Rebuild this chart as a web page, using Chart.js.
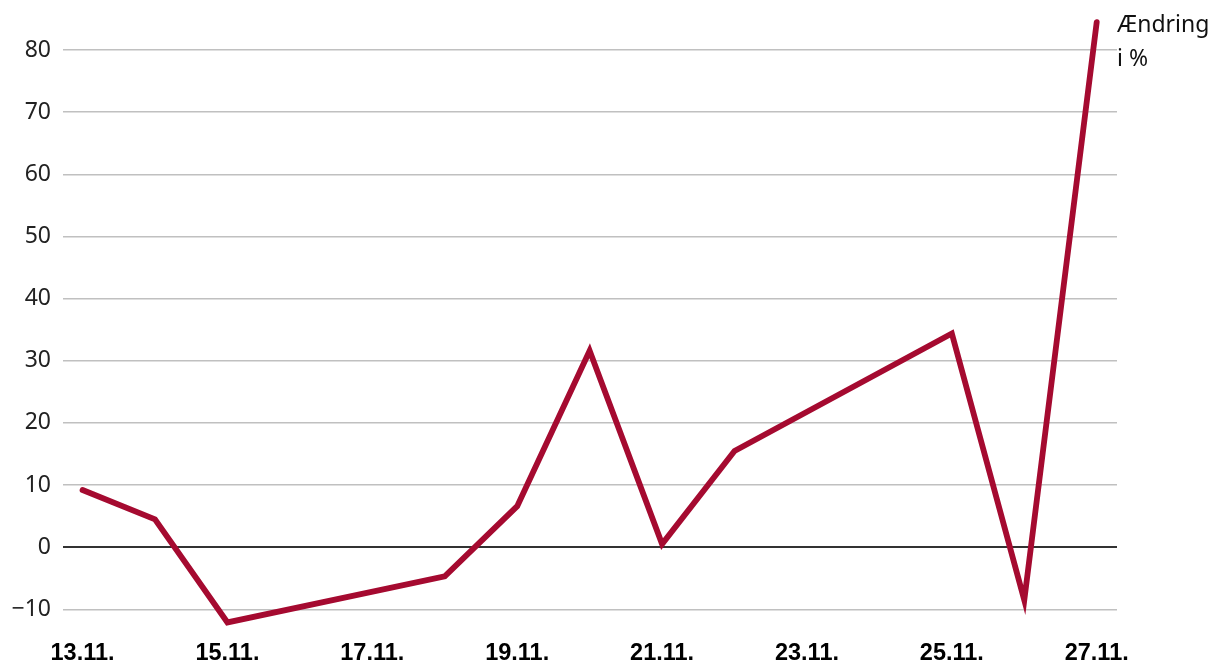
<!DOCTYPE html>
<html><head><meta charset="utf-8">
<script src="https://cdn.jsdelivr.net/npm/chart.js@4/dist/chart.umd.min.js"></script>
<style>html,body{margin:0;padding:0;background:#fff}#wrap{width:1220px;height:672px}</style>
</head><body><div id="wrap"><canvas id="c" width="1220" height="672"></canvas></div>
<script>
const days = [13, 14, 15, 18, 19, 20, 21, 22, 25, 26, 27];
const changePct = [9.2, 4.5, -12.1, -4.7, 6.6, 31.6, 0.5, 15.5, 34.4, -8.5, 84.5];
const xTickDays = [13, 15, 17, 19, 21, 23, 25, 27];
const xTickLabels = ['13.11.', '15.11.', '17.11.', '19.11.', '21.11.', '23.11.', '25.11.', '27.11.'];
const yTicks = [-10, 0, 10, 20, 30, 40, 50, 60, 70, 80];
const unitLabel = ['Ændring', 'i %'];

const labelPlugin = {
  id: 'unitLabel',
  afterDraw(chart) {
    const ctx = chart.ctx;
    ctx.save();
    ctx.font = '23px "Noto Sans"';
    ctx.fillStyle = '#111';
    ctx.textAlign = 'left';
    ctx.textBaseline = 'middle';
    const x = chart.chartArea.right + 0;
    unitLabel.forEach((t, i) => ctx.fillText(t, x, 25 + i * 34));
    ctx.restore();
  }
};

new Chart(document.getElementById('c'), {
  type: 'line',
  data: {
    datasets: [{
      data: days.map((d, i) => ({x: d, y: changePct[i]})),
      borderColor: '#a50a30',
      borderWidth: 5.8,
      borderCapStyle: 'round',
      borderJoinStyle: 'miter',
      pointRadius: 0,
      tension: 0,
      clip: false
    }]
  },
  options: {
    responsive: false,
    animation: false,
    layout: {padding: {top: 19, right: 103, bottom: 0, left: 0}},
    plugins: {legend: {display: false}, tooltip: {enabled: false}},
    scales: {
      x: {
        type: 'linear',
        min: 12.73,
        max: 27.28,
        afterBuildTicks(s) { s.ticks = xTickDays.map(v => ({value: v})); },
        afterFit(s) { s.height = 44; s.paddingLeft = 0; s.paddingRight = 0; },
        grid: {display: false, drawTicks: false},
        border: {display: false},
        ticks: {
          autoSkip: false,
          maxRotation: 0,
          padding: 11,
          color: '#000',
          font: {family: '"Liberation Sans", Arial, sans-serif', size: 23.5, weight: 'bold'},
          callback(v) { const i = xTickDays.indexOf(v); return i >= 0 ? xTickLabels[i] : ''; }
        }
      },
      y: {
        min: -13,
        max: 85,
        afterBuildTicks(s) { s.ticks = yTicks.map(v => ({value: v})); },
        afterFit(s) { s.width = 63; s.paddingTop = 0; s.paddingBottom = 0; },
        grid: {
          drawTicks: false,
          color: ctx => ctx.tick && ctx.tick.value === 0 ? '#333333' : '#c0c0c0',
          lineWidth: ctx => ctx.tick && ctx.tick.value === 0 ? 2 : 1.5
        },
        border: {display: false},
        ticks: {
          padding: 12,
          color: '#222',
          font: {family: '"Noto Sans", "Open Sans", sans-serif', size: 23},
          callback(v) { return v < 0 ? '\u2212' + Math.abs(v) : String(v); }
        }
      }
    }
  },
  plugins: [labelPlugin]
});
</script></body></html>
